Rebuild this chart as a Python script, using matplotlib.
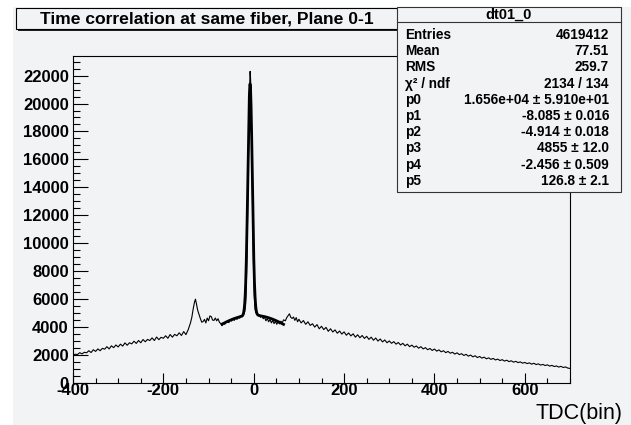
import numpy as np
import matplotlib.pyplot as plt
from matplotlib.patches import Rectangle
from matplotlib.ticker import MultipleLocator

plt.rcParams['font.family'] = ['Liberation Sans', 'DejaVu Sans']
plt.rcParams['axes.unicode_minus'] = False

# histogram contents (TDC bin, counts)
hist_x = [-400, -395, -390, -385, -380, -375, -370, -365, -360, -355,
          -350, -345, -340, -335, -330, -325, -320, -315, -310, -305,
          -300, -295, -290, -285, -280, -275, -270, -265, -260, -255,
          -250, -245, -240, -235, -230, -225, -220, -215, -210, -205,
          -200, -195, -190, -185, -180, -175, -170, -165, -160, -155,
          -150, -145, -142, -140, -137, -134, -131, -129, -127, -124,
          -121, -118, -115, -112, -109, -106, -103, -100, -97, -94,
          -91, -88, -85, -82, -79, -76, -73, -70, -67, -64,
          -61, -58, -55, -52, -49, -46, -43, -40, -37, -34,
          -31, -28, -25, -22, -20, -18, -17, -16, -15, -14,
          -13, -12, -11, -10, -9, -8, -7, -6, -5, -4,
          -3, -2, -1, 0, 1, 2, 3, 4, 6, 9,
          12, 15, 18, 21, 24, 27, 30, 33, 36, 39,
          42, 45, 48, 51, 54, 57, 60, 63, 66, 70,
          73, 76, 79, 82, 85, 88, 91, 94, 97, 100,
          105, 110, 115, 120, 125, 130, 135, 140, 145, 150,
          155, 160, 165, 170, 175, 180, 185, 190, 195, 200,
          205, 210, 215, 220, 225, 230, 235, 240, 245, 250,
          255, 260, 265, 270, 275, 280, 285, 290, 295, 300,
          305, 310, 315, 320, 325, 330, 335, 340, 345, 350,
          355, 360, 365, 370, 375, 380, 385, 390, 395, 400,
          405, 410, 415, 420, 425, 430, 435, 440, 445, 450,
          455, 460, 465, 470, 475, 480, 485, 490, 495, 500,
          505, 510, 515, 520, 525, 530, 535, 540, 545, 550,
          555, 560, 565, 570, 575, 580, 585, 590, 595, 600,
          605, 610, 615, 620, 625, 630, 635, 640, 645, 650,
          655, 660, 665, 670, 675, 680, 685, 690, 695, 700]
hist_y = [1980, 2060, 2040, 2170, 2080, 2200, 2160, 2310, 2180, 2380,
          2260, 2440, 2310, 2480, 2420, 2600, 2440, 2660, 2530, 2720,
          2580, 2780, 2640, 2870, 2700, 2880, 2800, 2990, 2830, 3040,
          2880, 3110, 2950, 3120, 3040, 3230, 3040, 3290, 3100, 3270,
          3200, 3380, 3200, 3470, 3280, 3480, 3380, 3590, 3400, 3680,
          3460, 3820, 4100, 4300, 4700, 5300, 5800, 6000, 5700, 5200,
          4900, 4600, 4350, 4400, 4550, 4300, 4650, 4450, 4800, 4750,
          4500, 4480, 4650, 4450, 4600, 4350, 4250, 4100, 4300, 4200,
          4380, 4400, 4320, 4520, 4430, 4580, 4480, 4660, 4550, 4700,
          4640, 4820, 4740, 4900, 5100, 5600, 6300, 7500, 9000, 11000,
          13200, 15500, 17800, 19800, 21300, 22300, 21800, 20600, 18600, 16200,
          13600, 11200, 9100, 7500, 6400, 5700, 5300, 5100, 4950, 4850,
          4900, 4700, 4820, 4600, 4700, 4450, 4620, 4380, 4550, 4300,
          4480, 4250, 4420, 4200, 4380, 4230, 4420, 4300, 4520, 4450,
          4680, 4820, 4950, 4700, 4620, 4720, 4480, 4680, 4380, 4560,
          4300, 4470, 4200, 4380, 4120, 4240, 4000, 4180, 3880, 4060,
          3820, 3980, 3700, 3880, 3650, 3800, 3560, 3720, 3500, 3660,
          3420, 3580, 3370, 3520, 3280, 3450, 3240, 3400, 3190, 3340,
          3120, 3280, 3060, 3220, 3000, 3150, 2940, 3080, 2880, 3010,
          2840, 2960, 2780, 2900, 2720, 2840, 2660, 2780, 2600, 2710,
          2560, 2650, 2490, 2600, 2440, 2530, 2380, 2470, 2330, 2430,
          2280, 2370, 2230, 2310, 2170, 2260, 2130, 2200, 2070, 2160,
          2030, 2100, 1970, 2050, 1920, 2000, 1870, 1950, 1820, 1900,
          1780, 1850, 1730, 1800, 1690, 1760, 1650, 1710, 1610, 1670,
          1570, 1630, 1530, 1590, 1490, 1550, 1460, 1510, 1420, 1470,
          1390, 1440, 1350, 1410, 1320, 1370, 1280, 1330, 1250, 1300,
          1210, 1260, 1180, 1220, 1140, 1190, 1110, 1150, 1070, 1040]

# fit parameters from the stats box (gaus + gaus)
fit_par = [1.656e4, -8.085, -4.914, 4855, -2.456, 126.8]
fit_range = (-70, 66)

stats_labels = ["Entries", "Mean", "RMS", "χ² / ndf",
                "p0", "p1", "p2", "p3", "p4", "p5"]
stats_values = ["4619412", "77.51", "259.7", "2134 / 134",
                "1.656e+04 ± 5.910e+01", "-8.085 ± 0.016", "-4.914 ± 0.018",
                "4855 ± 12.0", "-2.456 ± 0.509", "126.8 ± 2.1"]

W, H = 631, 425
bg = '#f2f3f5'


def fx(px):
    return px / W


def fy(py):
    return 1 - py / H


fig = plt.figure(figsize=(6.31, 4.25), dpi=100)
fig.patch.set_facecolor('white')
fig.add_artist(Rectangle((fx(13), 0), 1 - fx(13), fy(7), transform=fig.transFigure,
                         facecolor=bg, edgecolor='none', zorder=-5))

ax = fig.add_axes([fx(73), fy(383), fx(570) - fx(73), fy(56) - fy(383)])
ax.set_facecolor(bg)

ax.plot(hist_x, hist_y, color='black', lw=0.8)

xf = np.linspace(fit_range[0], fit_range[1], 400)
p = fit_par
yf = p[0] * np.exp(-0.5 * ((xf - p[1]) / p[2]) ** 2) + p[3] * np.exp(-0.5 * ((xf - p[4]) / p[5]) ** 2)
ax.plot(xf, yf, color='black', lw=2.0)

ax.set_xlim(-400, 700)
ax.set_ylim(0, 23400)
ax.xaxis.set_major_locator(MultipleLocator(200))
ax.xaxis.set_minor_locator(MultipleLocator(50))
ax.yaxis.set_major_locator(MultipleLocator(2000))
ax.yaxis.set_minor_locator(MultipleLocator(500))
ax.tick_params(axis='x', which='major', direction='in', length=7.5, width=0.8, pad=0)
ax.tick_params(axis='x', which='minor', direction='in', length=3.8, width=0.8)
ax.tick_params(axis='y', which='major', direction='in', length=10.5, width=0.8, pad=3)
ax.tick_params(axis='y', which='minor', direction='in', length=5.2, width=0.8)
for lab in ax.get_xticklabels() + ax.get_yticklabels():
    lab.set_fontweight('bold')
    lab.set_fontsize(12)
for s in ax.spines.values():
    s.set_linewidth(0.8)

fig.text(fx(622), fy(413), "TDC(bin)", ha='right', va='center', fontsize=15.5)

# title pave with shadow
fig.add_artist(Rectangle((fx(18), fy(31)), fx(398) - fx(16), fy(8) - fy(29),
                         transform=fig.transFigure, facecolor='#222222', edgecolor='none'))
fig.add_artist(Rectangle((fx(16), fy(29)), fx(398) - fx(16), fy(8) - fy(29),
                         transform=fig.transFigure, facecolor=bg, edgecolor='black', lw=0.8))
fig.text(fx(207), fy(18.5), "Time correlation at same fiber, Plane 0-1",
         ha='center', va='center', fontsize=12.6, fontweight='bold')

# stats box
fig.add_artist(Rectangle((fx(397), fy(192)), fx(621) - fx(397), fy(7) - fy(192),
                         transform=fig.transFigure, facecolor=bg, edgecolor='#333333', lw=0.8))
fig.add_artist(plt.Line2D([fx(397), fx(621)], [fy(22), fy(22)], transform=fig.transFigure,
                          color='#333333', lw=0.8))
fig.text(fx(509), fy(14.5), "dt01_0", ha='center', va='center', fontsize=10.5, fontweight='bold')
for i, (lab, val) in enumerate(zip(stats_labels, stats_values)):
    yy = fy(35 + i * 16.2)
    fig.text(fx(405), yy, lab, ha='left', va='center', fontsize=9.8, fontweight='bold')
    fig.text(fx(609), yy, val, ha='right', va='center', fontsize=9.8, fontweight='bold')

fig.savefig('out.png', dpi=100, facecolor=fig.get_facecolor())
